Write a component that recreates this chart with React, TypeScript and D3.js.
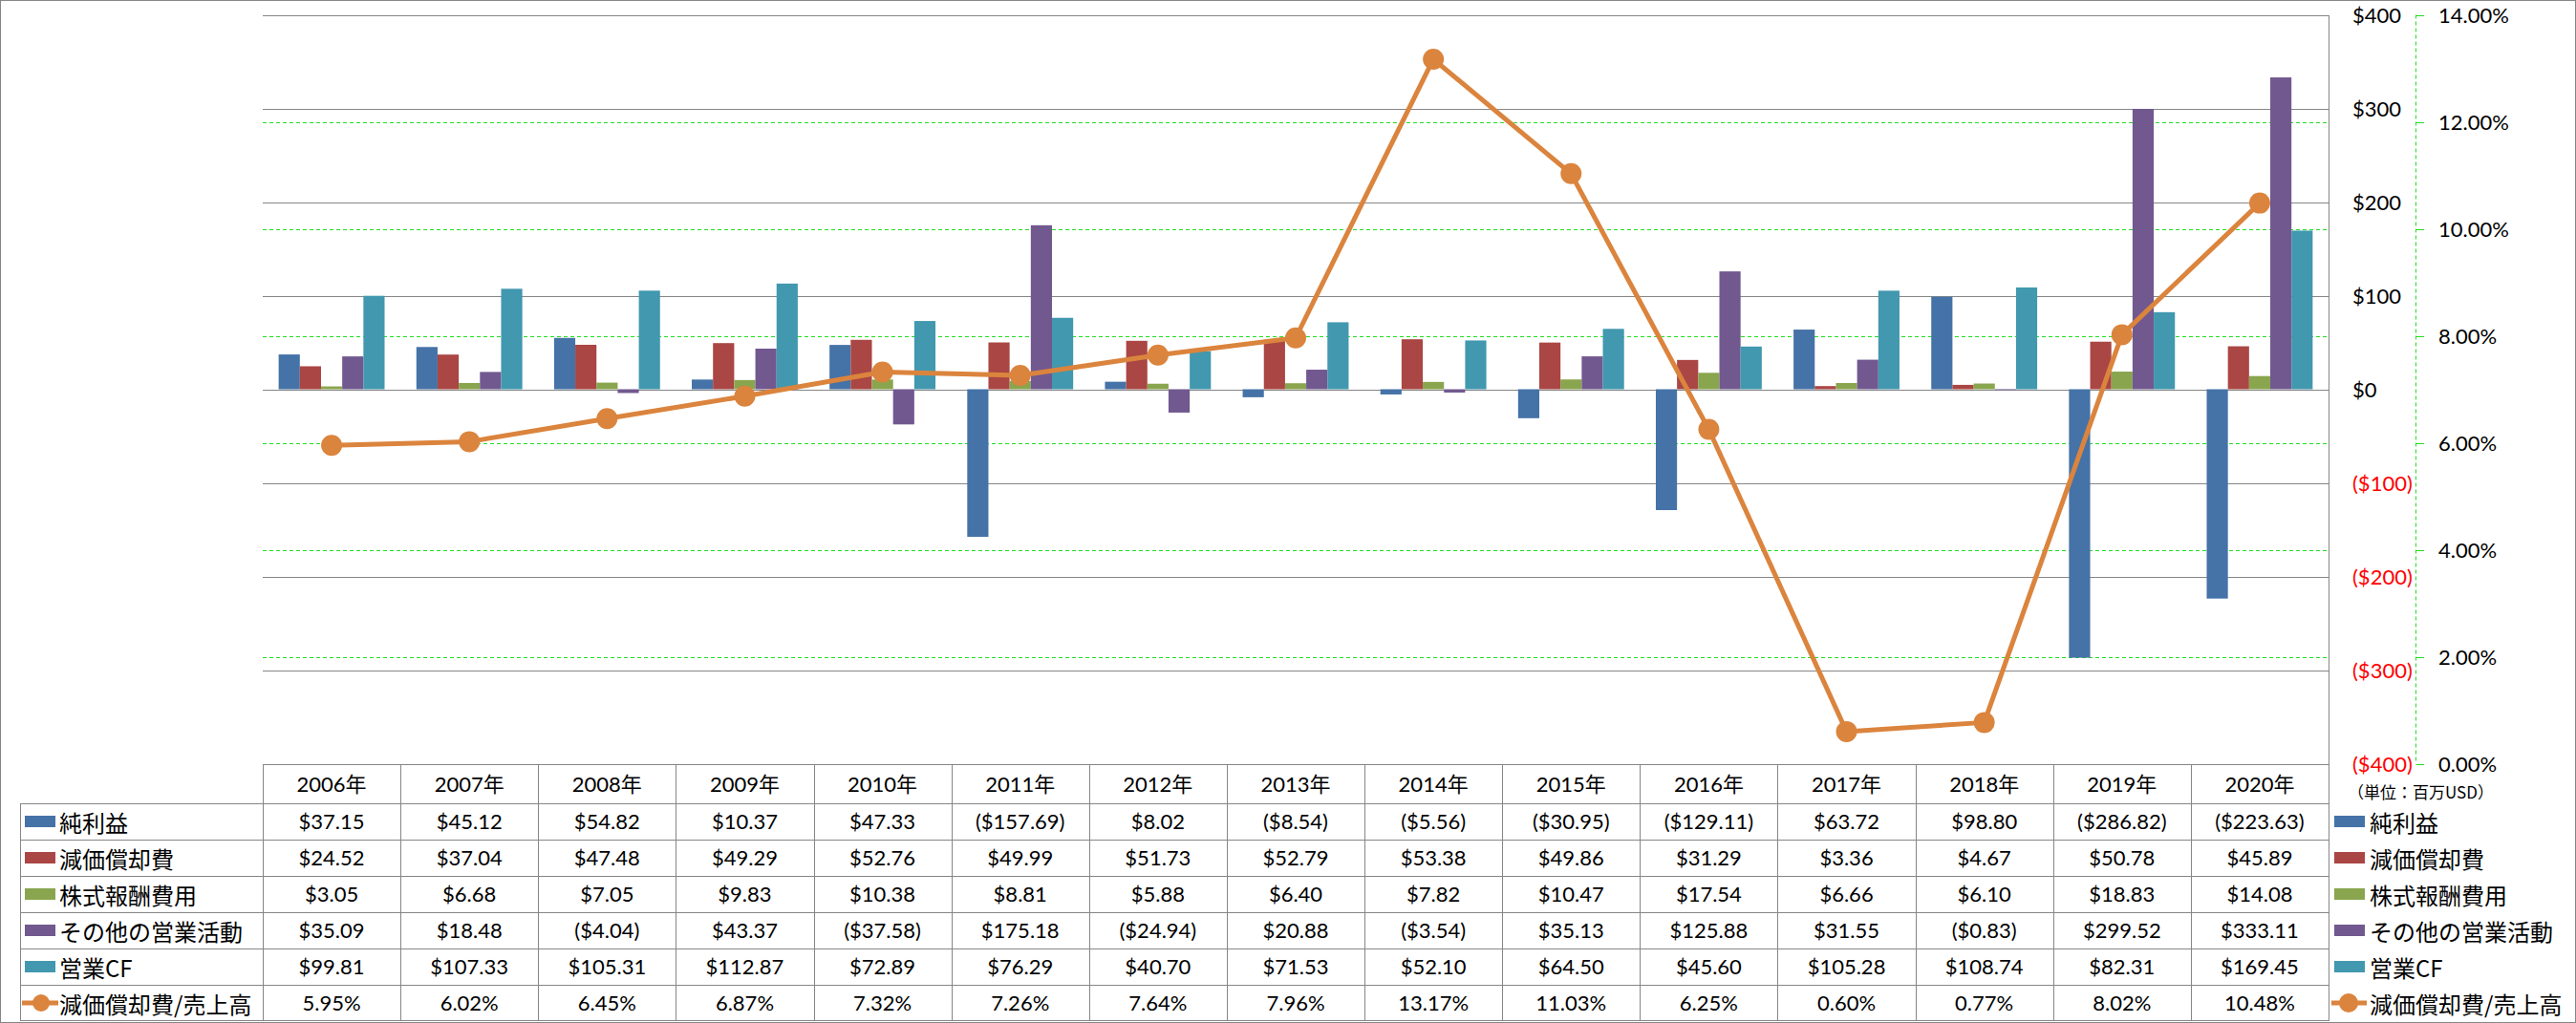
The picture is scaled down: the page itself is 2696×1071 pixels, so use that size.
import React from 'react';
import * as d3 from 'd3';

const years = ['2006年','2007年','2008年','2009年','2010年','2011年','2012年','2013年','2014年','2015年','2016年','2017年','2018年','2019年','2020年'];
const netIncome = [37.15,45.12,54.82,10.37,47.33,-157.69,8.02,-8.54,-5.56,-30.95,-129.11,63.72,98.80,-286.82,-223.63];
const depreciation = [24.52,37.04,47.48,49.29,52.76,49.99,51.73,52.79,53.38,49.86,31.29,3.36,4.67,50.78,45.89];
const stockComp = [3.05,6.68,7.05,9.83,10.38,8.81,5.88,6.40,7.82,10.47,17.54,6.66,6.10,18.83,14.08];
const otherOps = [35.09,18.48,-4.04,43.37,-37.58,175.18,-24.94,20.88,-3.54,35.13,125.88,31.55,-0.83,299.52,333.11];
const operatingCF = [99.81,107.33,105.31,112.87,72.89,76.29,40.70,71.53,52.10,64.50,45.60,105.28,108.74,82.31,169.45];
const depRatio = [5.95,6.02,6.45,6.87,7.32,7.26,7.64,7.96,13.17,11.03,6.25,0.60,0.77,8.02,10.48];

const barNames = ['純利益','減価償却費','株式報酬費用','その他の営業活動','営業CF'];
const barColors = ['#4572A7','#AA4643','#89A54E','#71588F','#4198AF'];
const lineName = '減価償却費/売上高';
const lineColor = '#DB843D';
const dollarTicks = [400,300,200,100,0,-100,-200,-300,-400];
const pctTicks = [0,2,4,6,8,10,12,14];
const unitLabel = '（単位：百万USD）';

const W = 2696, H = 1071;
const plotL = 275, plotR = 2437, plotT = 15.5, plotB = 799.5;
const FONT = "Lato, 'Noto Sans CJK JP', sans-serif";
const CJK = "'Noto Sans CJK JP', sans-serif";
const GRAY = '#868686';

const fmtMoney = (v: number, dec: number) => {
  const s = '$' + Math.abs(v).toFixed(dec);
  return v < 0 ? '(' + s + ')' : s;
};

export default function App() {
  const series = [netIncome, depreciation, stockComp, otherOps, operatingCF];
  const x = d3.scaleBand<string>().domain(years).range([plotL, plotR]).padding(0);
  const bw = x.bandwidth();
  const barW = bw / 6.5;
  const yD = d3.scaleLinear().domain([-400, 400]).range([plotB, plotT]);
  const yP = d3.scaleLinear().domain([0, 14]).range([plotB, plotT]);
  const cx = (i: number) => (x(years[i]) as number) + bw / 2;
  const line = d3.line<number>().x((_, i) => cx(i)).y((d) => yP(d));

  const tableTop = 800;
  const headerBottom = 841;
  const rowH = 38;
  const rowsAll = [...series.map((s) => s.map((v) => fmtMoney(v, 2))), depRatio.map((v) => v.toFixed(2) + '%')];
  const tableBottom = headerBottom + rowH * rowsAll.length;
  const rowC = (r: number) => headerBottom + rowH * r + rowH / 2;
  const px = (v: number) => Math.round(v) + 0.5;

  return (
    <svg width={W} height={H} style={{ position: 'absolute', left: 0, top: 0, background: '#fff' }}>
      <rect x={0.5} y={0.5} width={W - 1} height={H - 1} fill="#fff" stroke={GRAY} strokeWidth={1} />
      {/* secondary (percent) gridlines */}
      {pctTicks.map((t) => (
        <line key={'pg' + t} x1={plotL} x2={plotR} y1={px(yP(t))} y2={px(yP(t))} stroke="#22dd22" strokeWidth={1} strokeDasharray="4,3" />
      ))}
      {/* primary gridlines */}
      {dollarTicks.map((t) => (
        <line key={'dg' + t} x1={plotL} x2={plotR} y1={px(yD(t))} y2={px(yD(t))} stroke={GRAY} strokeWidth={1} shapeRendering="crispEdges" />
      ))}
      {/* bars */}
      {series.map((s, si) =>
        s.map((v, i) => {
          const bx = (x(years[i]) as number) + 0.75 * barW + si * barW;
          const y0 = yD(Math.max(v, 0));
          const y1 = yD(Math.min(v, 0));
          return <rect key={'b' + si + '-' + i} x={bx} y={y0} width={barW} height={Math.max(0, y1 - y0)} fill={barColors[si]} />;
        })
      )}
      {/* primary axis line (right) */}
      <line x1={px(plotR)} x2={px(plotR)} y1={plotT} y2={tableBottom} stroke={GRAY} strokeWidth={1} shapeRendering="crispEdges" />
      {/* line series */}
      <path d={line(depRatio) || ''} fill="none" stroke={lineColor} strokeWidth={5} strokeLinejoin="round" />
      {depRatio.map((v, i) => (
        <circle key={'m' + i} cx={cx(i)} cy={yP(v)} r={11} fill={lineColor} />
      ))}
      {/* dollar axis labels */}
      {dollarTicks.map((t) => (
        <text key={'dl' + t} x={2462} y={yD(t) + 8} fontFamily={FONT} fontSize={22} fill={t < 0 ? '#FF0000' : '#000'}>
          {fmtMoney(t, 0)}
        </text>
      ))}
      {/* percent axis */}
      <line x1={2528.5} x2={2528.5} y1={plotT} y2={plotB} stroke="#22dd22" strokeWidth={1} strokeDasharray="4,3" />
      {pctTicks.map((t) => (
        <g key={'pl' + t}>
          <line x1={2528.5} x2={2537} y1={px(yP(t))} y2={px(yP(t))} stroke="#22dd22" strokeWidth={1} />
          <text x={2552} y={yP(t) + 8} fontFamily={FONT} fontSize={22} fill="#000">
            {t.toFixed(2) + '%'}
          </text>
        </g>
      ))}
      <text x={2457} y={828} fontFamily={CJK} fontSize={17} dominantBaseline="central" fill="#000">
        {unitLabel}
      </text>
      {/* data table */}
      <line x1={plotL} x2={plotR} y1={tableTop + 0.5} y2={tableTop + 0.5} stroke={GRAY} shapeRendering="crispEdges" />
      {d3.range(rowsAll.length + 1).map((r) => (
        <line key={'hr' + r} x1={21} x2={plotR} y1={px(headerBottom + r * rowH) - (r === rowsAll.length ? 1 : 0)} y2={px(headerBottom + r * rowH) - (r === rowsAll.length ? 1 : 0)} stroke={GRAY} shapeRendering="crispEdges" />
      ))}
      <line x1={21.5} x2={21.5} y1={headerBottom} y2={tableBottom} stroke={GRAY} shapeRendering="crispEdges" />
      {years.map((yr, i) => (
        <line key={'vc' + i} x1={px(x(yr) as number)} x2={px(x(yr) as number)} y1={tableTop} y2={tableBottom} stroke={GRAY} shapeRendering="crispEdges" />
      ))}
      {years.map((yr, i) => (
        <text key={'yh' + i} x={cx(i)} y={(tableTop + headerBottom) / 2 + 8} textAnchor="middle" fontFamily={FONT} fontSize={22} fill="#000">
          {yr}
        </text>
      ))}
      {rowsAll.map((row, r) =>
        row.map((txt, i) => (
          <text key={'c' + r + '-' + i} x={cx(i)} y={rowC(r) + 8} textAnchor="middle" fontFamily={FONT} fontSize={22} fill="#000">
            {txt}
          </text>
        ))
      )}
      {/* table legend keys */}
      {barNames.map((n, si) => (
        <g key={'tl' + si}>
          <rect x={26} y={rowC(si) - 6} width={32} height={12} fill={barColors[si]} />
          <text x={62} y={rowC(si)} dominantBaseline="central" fontFamily={CJK} fontSize={24} fill="#000">{n}</text>
        </g>
      ))}
      <g>
        <line x1={23} x2={61} y1={rowC(5)} y2={rowC(5)} stroke={lineColor} strokeWidth={5} />
        <circle cx={43} cy={rowC(5)} r={9} fill={lineColor} />
        <text x={62} y={rowC(5)} dominantBaseline="central" fontFamily={CJK} fontSize={24} fill="#000">{lineName}</text>
      </g>
      {/* right legend */}
      {barNames.map((n, si) => (
        <g key={'rl' + si}>
          <rect x={2443} y={rowC(si) - 6} width={32} height={12} fill={barColors[si]} />
          <text x={2480} y={rowC(si)} dominantBaseline="central" fontFamily={CJK} fontSize={24} fill="#000">{n}</text>
        </g>
      ))}
      <g>
        <line x1={2440} x2={2477} y1={rowC(5)} y2={rowC(5)} stroke={lineColor} strokeWidth={5} />
        <circle cx={2458} cy={rowC(5)} r={10} fill={lineColor} />
        <text x={2480} y={rowC(5)} dominantBaseline="central" fontFamily={CJK} fontSize={24} fill="#000">{lineName}</text>
      </g>
    </svg>
  );
}
